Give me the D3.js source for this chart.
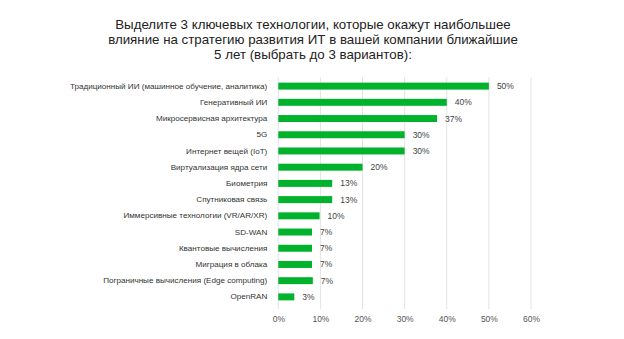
<!DOCTYPE html>
<html><head><meta charset="utf-8">
<script src="https://cdn.jsdelivr.net/npm/d3@7"></script>
<style>
html,body{margin:0;padding:0;background:#fff;}
svg{display:block;font-family:"Liberation Sans",Arial,sans-serif;}
</style></head>
<body>
<svg id="chart" width="624" height="339"></svg>
<script>
const titleLines = [
  "Выделите 3 ключевых технологии, которые окажут наибольшее",
  "влияние на стратегию развития ИТ в вашей компании ближайшие",
  "5 лет (выбрать до 3 вариантов):"
];
const categories = [
  "Традиционный ИИ (машинное обучение, аналитика)",
  "Генеративный ИИ",
  "Микросервисная архитектура",
  "5G",
  "Интернет вещей (IoT)",
  "Виртуализация ядра сети",
  "Биометрия",
  "Спутниковая связь",
  "Иммерсивные технологии (VR/AR/XR)",
  "SD-WAN",
  "Квантовые вычисления",
  "Миграция в облака",
  "Пограничные вычисления (Edge computing)",
  "OpenRAN"
];
const values = [50, 40, 37.7, 30, 30, 20, 12.8, 12.8, 9.8, 8.0, 8.0, 8.0, 8.2, 3.8];
const valueLabels = ["50%","40%","37%","30%","30%","20%","13%","13%","10%","7%","7%","7%","7%","3%"];
const ticks = [0, 10, 20, 30, 40, 50, 60];

const svg = d3.select("#chart");
const x = d3.scaleLinear().domain([0, 60]).range([278.3, 531]);
const y = d3.scaleBand().domain(categories).range([78, 305]).paddingInner(0.57).paddingOuter(0.285);

// title
svg.append("g").selectAll("text").data(titleLines).join("text")
  .attr("x", 313).attr("y", (d,i) => 28.5 + i*15)
  .attr("text-anchor", "middle")
  .attr("font-size", 13.3).attr("fill", "#222")
  .text(d => d);

// gridlines
svg.append("g").selectAll("line").data(ticks).join("line")
  .attr("x1", d => x(d)).attr("x2", d => x(d))
  .attr("y1", 77).attr("y2", 309)
  .attr("stroke", "#e3e3e3").attr("stroke-width", 1);

// x axis
const xAxis = d3.axisBottom(x).tickValues(ticks).tickFormat(d => d + "%").tickSize(0).tickPadding(0);
const gx = svg.append("g").attr("transform", "translate(0,316)").call(xAxis);
gx.select(".domain").remove();
gx.selectAll("text").attr("font-size", 8.5).attr("fill", "#555").attr("font-family", "Liberation Sans, Arial, sans-serif");

// y axis labels
const yAxis = d3.axisLeft(y).tickSize(0).tickPadding(11);
const gy = svg.append("g").attr("transform", `translate(${x(0)},0)`).call(yAxis);
gy.select(".domain").remove();
gy.selectAll("text").attr("font-size", 8.1).attr("fill", "#333").attr("font-family", "Liberation Sans, Arial, sans-serif");

// bars
svg.append("g").selectAll("rect").data(categories).join("rect")
  .attr("x", x(0))
  .attr("y", d => y(d))
  .attr("width", (d,i) => x(values[i]) - x(0))
  .attr("height", y.bandwidth())
  .attr("fill", "#00B22C");

// value labels
svg.append("g").selectAll("text").data(categories).join("text")
  .attr("x", (d,i) => x(values[i]) + 8)
  .attr("y", d => y(d) + y.bandwidth()/2)
  .attr("dy", "0.35em")
  .attr("font-size", 8.5).attr("fill", "#444")
  .text((d,i) => valueLabels[i]);
</script>
</body></html>
